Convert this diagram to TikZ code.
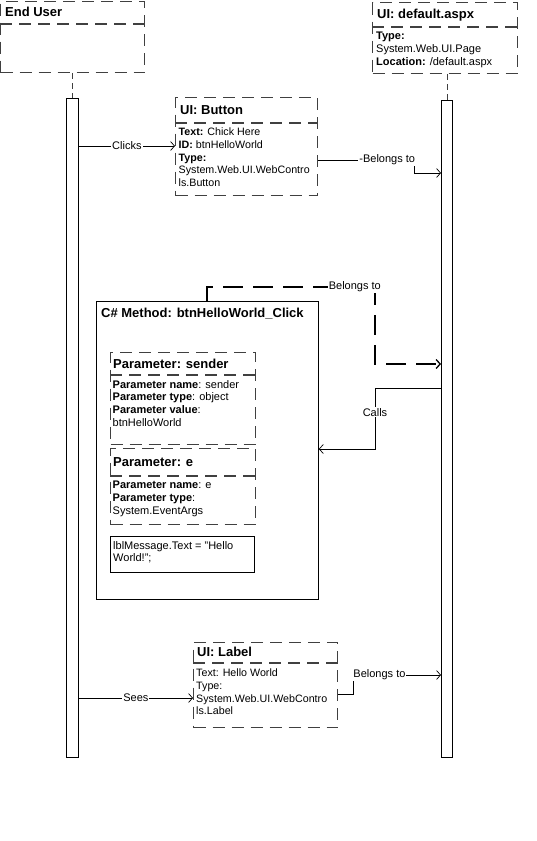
\documentclass[tikz,border=0pt]{standalone}
\usepackage{fontspec}
\setmainfont{Liberation Sans}
\usetikzlibrary{arrows.meta,calc}
\begin{document}
\begin{tikzpicture}[x=1pt,y=-1pt,
 dbox/.style={draw=black!75, line width=1.1pt, dash pattern=on 12pt off 7pt, rectangle, inner sep=0pt, anchor=north west},
 dline/.style={draw=black!75, line width=1.1pt, dash pattern=on 12pt off 7pt},
 sbox/.style={draw=black, line width=0.8pt, rectangle, inner sep=0pt, anchor=north west},
 ttl/.style={font=\bfseries\fontsize{13}{14}\selectfont, anchor=west, inner sep=0pt},
 body/.style={font=\fontsize{11}{12.8}\selectfont, align=left, anchor=north west, inner sep=0pt},
 bodyl/.style={font=\fontsize{10.7}{12.8}\selectfont, align=left, anchor=north west, inner sep=0pt},
 conn/.style={draw=black, line width=0.7pt},
 bconn/.style={draw=black, line width=1.3pt, dash pattern=on 20pt off 10pt},
 arr/.style={-{Straight Barb[length=4pt,width=9pt]}},
 lbl/.style={fill=white, inner sep=1pt, font=\fontsize{11}{12}\selectfont},
 ]
\useasboundingbox (0,0) rectangle (537,841);

% End User
\node[dbox, minimum width=144pt, minimum height=71pt] (eu) at (0,1) {};
\draw[dline] ($(eu.north west)+(0,23)$) -- ($(eu.north east)+(0,23)$);
\node[ttl] (eut) at (5,12) {End User};

% default.aspx
\node[dbox, minimum width=145pt, minimum height=71pt] (asp) at (372,2) {};
\draw[dline] ($(asp.north west)+(0,25)$) -- ($(asp.north east)+(0,25)$);
\node[ttl] (aspt) at (377,15) {UI: default.aspx};
\node[body] (aspb) at (376,32) {\textbf{Type:}\\System.Web.UI.Page\\\textbf{Location:} /default.aspx};

% lifeline bars
\node[sbox, minimum width=12pt, minimum height=659pt] (eubar) at (66,98) {};
\node[sbox, minimum width=11pt, minimum height=657pt] (aspbar) at (441,100) {};
\draw[dline, line width=0.9pt, dash pattern=on 6pt off 4pt] (eu.south -| eubar.north) -- (eubar.north);
\draw[dline, line width=0.9pt, dash pattern=on 6pt off 4pt] ($(asp.south west)+(75,0)$) -- ($(aspbar.north west)+(6,0)$);

% UI: Button
\node[dbox, minimum width=142pt, minimum height=98pt] (btn) at (175,97) {};
\draw[dline] ($(btn.north west)+(0,26)$) -- ($(btn.north east)+(0,26)$);
\node[ttl] (btnt) at (180,110) {UI: Button};
\node[bodyl] (btnb) at (178.5,127.5) {\textbf{Text:} Chick Here\\\textbf{ID:} btnHelloWorld\\\textbf{Type:}\\System.Web.UI.WebContro\\ls.Button};

% C# Method
\node[sbox, minimum width=222pt, minimum height=298pt] (meth) at (96,301) {};
\node[ttl] (metht) at (101,314) {C\# Method: btnHelloWorld\_Click};

% Parameter: sender
\node[dbox, minimum width=145pt, minimum height=92pt] (snd) at (110,352) {};
\draw[dline] ($(snd.north west)+(0,23)$) -- ($(snd.north east)+(0,23)$);
\node[ttl] (sndt) at (113,364) {Parameter: sender};
\node[body] (sndb) at (112.5,380) {\textbf{Parameter name}: sender\\\textbf{Parameter type}: object\\\textbf{Parameter value}:\\btnHelloWorld};

% Parameter: e
\node[dbox, minimum width=145pt, minimum height=76pt] (pe) at (110,448) {};
\draw[dline] ($(pe.north west)+(0,28)$) -- ($(pe.north east)+(0,28)$);
\node[ttl] (pet) at (113,462) {Parameter: e};
\node[body] (peb) at (112.5,481) {\textbf{Parameter name}: e\\\textbf{Parameter type}:\\System.EventArgs};

% code box
\node[sbox, minimum width=144pt, minimum height=36pt] (code) at (110,536) {};
\node[body] (codet) at (113,541) {lblMessage.Text = "Hello\\World!";};

% UI: Label
\node[dbox, minimum width=144pt, minimum height=85pt] (lab) at (193,642) {};
\draw[dline] ($(lab.north west)+(0,21)$) -- ($(lab.north east)+(0,21)$);
\node[ttl] (labt) at (197,652) {UI: Label};
\node[bodyl] (labb) at (196,668.5) {Text: Hello World\\Type:\\System.Web.UI.WebContro\\ls.Label};

% connectors
\draw[conn, arr] ($(eubar.north east)+(0,48)$) -- node[lbl]{Clicks} ($(btn.north west)+(0,49)$);
\draw[conn, arr] ($(btn.north east)+(0,63)$) -- node[lbl, pos=0.72]{-Belongs to} ++(96,0) |- ($(aspbar.north west)+(0,73)$);
\draw[bconn, arr] ($(meth.north west)+(111,0)$) -- ++(0,-14) -- node[lbl, pos=0.88, line width=0pt]{Belongs to} ++(168,0) |- ($(aspbar.north west)+(0,264)$);
\draw[conn, arr] ($(aspbar.north west)+(0,288)$) -- ++(-66,0) -- node[lbl, pos=0.4]{Calls} ++(0,61) -- ($(meth.north east)+(0,148)$);
\draw[conn, arr] ($(eubar.north east)+(0,600)$) -- node[lbl]{Sees} ($(lab.north west)+(0,56)$);
\draw[conn, arr] ($(lab.north east)+(0,52)$) -- ++(15,0) -- ++(0,-19) -- node[lbl, pos=0.3]{Belongs to} ($(aspbar.north west)+(0,575)$);
\end{tikzpicture}
\end{document}
